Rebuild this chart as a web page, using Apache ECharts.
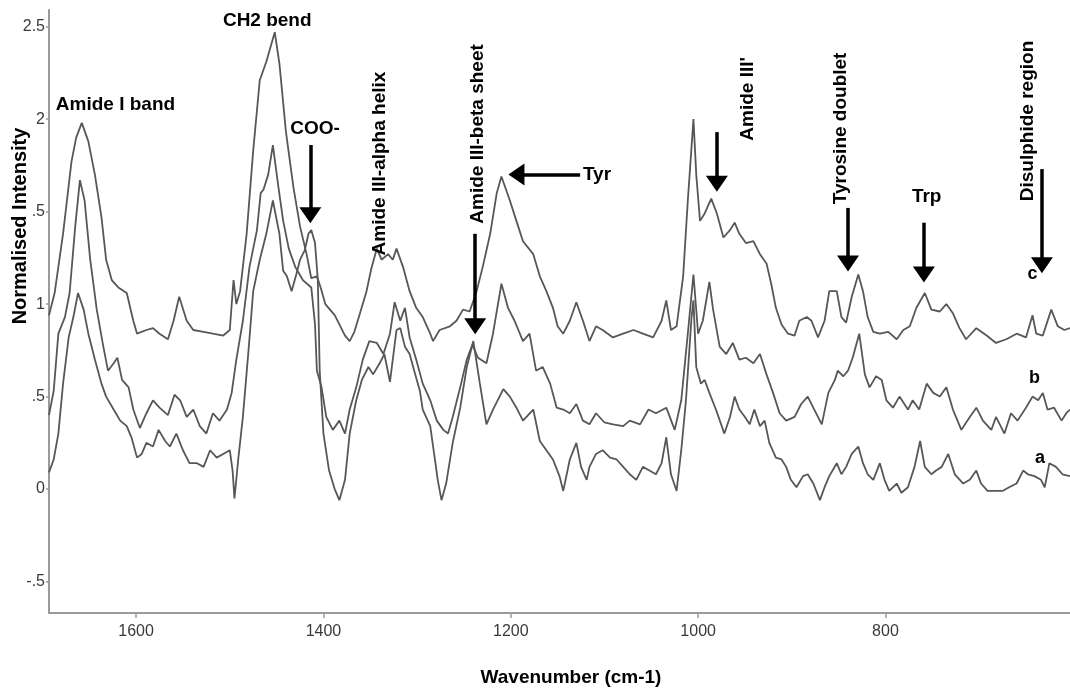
<!DOCTYPE html>
<html>
<head>
<meta charset="utf-8">
<script src="https://cdn.jsdelivr.net/npm/echarts@6/dist/echarts.min.js"></script>
<style>
html,body{margin:0;padding:0;background:#fff;}
#chart{width:1070px;height:689px;}
</style>
</head>
<body>
<div id="chart"></div>
<script>
// ---- Data ----
const xTicks = [1600, 1400, 1200, 1000, 800];
const yTicks = [-0.5, 0, 0.5, 1, 1.5, 2, 2.5];
const yTickLabels = ['-.5', '0', '.5', '1', '.5', '2', '2.5'];

// Spectrum c (top)
const waveC = [1693,1687,1678,1669,1664,1658,1651,1644,1637,1632,1626,1619,1610,1603,1599,1589,1582,1575,1566,1560,1554,1546,1539,1528,1518,1507,1500,1496,1493,1489,1482,1475,1468,1461,1452,1447,1440,1432,1425,1418,1413,1407,1403,1398,1393,1388,1383,1377,1372,1367,1361,1354,1349,1343,1338,1331,1326,1322,1315,1308,1301,1294,1286,1283,1276,1265,1258,1251,1244,1237,1230,1222,1215,1210,1201,1194,1187,1176,1169,1162,1155,1150,1144,1137,1130,1123,1116,1109,1102,1091,1080,1069,1059,1048,1039,1034,1029,1023,1016,1011,1005,1002,998,993,986,980,973,966,961,956,949,941,934,927,922,917,911,904,897,892,884,879,872,865,860,852,847,842,836,829,824,819,813,806,797,788,781,774,767,758,751,742,735,728,721,714,703,692,682,671,660,650,643,639,632,623,616,609,603];
const intC = [0.94,1.06,1.38,1.77,1.90,1.98,1.88,1.70,1.47,1.24,1.13,1.09,1.06,0.91,0.84,0.86,0.87,0.84,0.81,0.91,1.04,0.91,0.86,0.85,0.84,0.83,0.86,1.13,1.00,1.07,1.38,1.83,2.21,2.31,2.47,2.30,1.93,1.63,1.42,1.27,1.14,1.15,1.09,1.00,0.97,0.94,0.89,0.83,0.80,0.85,0.95,1.07,1.19,1.30,1.24,1.27,1.24,1.30,1.20,1.07,0.98,0.93,0.84,0.80,0.86,0.88,0.91,0.97,0.96,1.06,1.20,1.38,1.60,1.69,1.56,1.45,1.34,1.27,1.15,1.07,0.98,0.88,0.84,0.91,1.01,0.91,0.80,0.88,0.86,0.82,0.84,0.86,0.84,0.82,0.91,1.02,0.86,0.88,1.15,1.56,2.00,1.70,1.45,1.49,1.57,1.49,1.36,1.40,1.44,1.38,1.33,1.34,1.27,1.22,1.11,0.98,0.89,0.84,0.83,0.91,0.93,0.91,0.82,0.91,1.07,1.07,0.93,0.90,1.04,1.16,1.07,0.93,0.85,0.84,0.85,0.81,0.86,0.88,0.98,1.06,0.97,0.96,1.00,0.95,0.87,0.81,0.87,0.83,0.79,0.81,0.84,0.82,0.94,0.84,0.83,0.97,0.88,0.86,0.87];

// Spectrum b (middle)
const waveB = [1693,1688,1683,1676,1671,1665,1660,1655,1649,1642,1635,1630,1624,1620,1615,1608,1603,1596,1589,1582,1575,1566,1559,1553,1546,1539,1532,1525,1518,1511,1503,1498,1493,1486,1479,1471,1467,1464,1459,1454,1448,1443,1437,1430,1422,1413,1409,1407,1402,1397,1390,1383,1377,1372,1365,1358,1351,1343,1336,1329,1324,1318,1313,1308,1301,1294,1286,1279,1272,1267,1262,1254,1247,1241,1235,1226,1219,1210,1203,1196,1187,1180,1173,1166,1158,1151,1144,1137,1130,1123,1116,1109,1100,1091,1080,1073,1062,1053,1045,1034,1025,1018,1011,1005,1000,995,988,984,977,970,963,956,949,941,934,927,920,913,906,897,890,883,876,868,861,854,851,845,840,835,828,822,817,810,804,799,792,785,776,771,764,756,749,742,735,728,719,710,703,696,687,682,673,666,659,650,643,637,632,627,620,612,607,603];
const intB = [0.40,0.53,0.84,0.93,1.06,1.42,1.67,1.56,1.24,0.97,0.77,0.64,0.68,0.71,0.59,0.55,0.43,0.33,0.41,0.48,0.44,0.40,0.51,0.48,0.39,0.43,0.34,0.30,0.41,0.37,0.43,0.52,0.70,0.91,1.20,1.40,1.60,1.62,1.70,1.86,1.63,1.45,1.30,1.20,1.13,1.09,0.89,0.64,0.55,0.39,0.32,0.37,0.30,0.43,0.55,0.70,0.80,0.79,0.73,0.84,1.01,0.91,0.98,0.82,0.70,0.57,0.48,0.37,0.32,0.30,0.39,0.55,0.70,0.78,0.71,0.68,0.84,1.11,0.98,0.91,0.80,0.84,0.64,0.66,0.57,0.44,0.43,0.41,0.46,0.37,0.35,0.41,0.36,0.35,0.34,0.37,0.35,0.43,0.41,0.44,0.32,0.48,0.84,1.16,0.84,0.91,1.12,0.97,0.77,0.73,0.79,0.70,0.71,0.68,0.73,0.62,0.52,0.41,0.37,0.39,0.46,0.50,0.43,0.35,0.52,0.59,0.64,0.61,0.64,0.71,0.84,0.62,0.55,0.61,0.59,0.48,0.44,0.50,0.43,0.48,0.43,0.57,0.52,0.50,0.55,0.43,0.32,0.39,0.44,0.37,0.32,0.39,0.30,0.41,0.37,0.44,0.50,0.48,0.52,0.43,0.44,0.37,0.41,0.43];

// Spectrum a (bottom)
const waveA = [1693,1688,1683,1678,1672,1667,1662,1656,1651,1644,1637,1632,1624,1617,1610,1605,1599,1594,1589,1582,1576,1569,1564,1557,1550,1543,1535,1528,1521,1514,1507,1500,1497,1495,1491,1486,1480,1475,1468,1461,1454,1447,1443,1439,1434,1429,1425,1420,1416,1413,1409,1406,1404,1400,1394,1388,1383,1377,1372,1365,1359,1352,1347,1340,1335,1329,1322,1318,1313,1308,1302,1297,1294,1286,1281,1278,1274,1269,1262,1254,1247,1240,1233,1226,1219,1208,1201,1194,1187,1176,1169,1162,1155,1148,1144,1137,1130,1125,1119,1116,1109,1102,1094,1087,1080,1073,1066,1059,1052,1045,1039,1034,1029,1023,1018,1013,1007,1005,1002,997,993,988,981,972,966,961,956,950,945,940,934,929,924,917,911,906,901,895,888,883,877,870,865,860,852,847,842,836,829,824,819,813,806,801,796,788,783,776,769,763,758,751,746,740,733,726,717,710,703,698,691,682,675,668,660,653,648,641,634,630,625,618,611,603];
const intA = [0.09,0.16,0.30,0.57,0.82,0.93,1.06,0.97,0.84,0.70,0.57,0.50,0.43,0.37,0.34,0.28,0.17,0.19,0.25,0.23,0.32,0.26,0.23,0.30,0.21,0.14,0.14,0.12,0.21,0.17,0.19,0.21,0.10,-0.05,0.16,0.39,0.75,1.07,1.24,1.38,1.56,1.38,1.18,1.15,1.07,1.16,1.24,1.29,1.38,1.40,1.33,1.13,0.64,0.30,0.10,0.00,-0.06,0.05,0.30,0.48,0.59,0.66,0.62,0.68,0.73,0.58,0.86,0.87,0.77,0.73,0.62,0.53,0.43,0.34,0.16,0.05,-0.06,0.03,0.25,0.44,0.66,0.80,0.57,0.35,0.43,0.54,0.50,0.44,0.37,0.43,0.26,0.21,0.16,0.07,-0.01,0.16,0.25,0.12,0.05,0.12,0.19,0.21,0.17,0.16,0.12,0.08,0.05,0.12,0.10,0.08,0.14,0.28,0.08,-0.01,0.21,0.48,0.93,1.02,0.66,0.57,0.59,0.52,0.43,0.30,0.39,0.50,0.43,0.39,0.35,0.43,0.34,0.37,0.25,0.17,0.16,0.12,0.05,0.01,0.07,0.08,0.03,-0.06,0.01,0.07,0.14,0.08,0.12,0.19,0.23,0.14,0.08,0.05,0.14,0.05,-0.01,0.03,-0.02,0.01,0.12,0.26,0.12,0.08,0.10,0.12,0.19,0.08,0.03,0.05,0.10,0.03,-0.01,-0.01,-0.01,0.01,0.03,0.10,0.08,0.07,0.05,0.01,0.14,0.12,0.08,0.07];

// Annotations: text, wavenumber, intensity, rotation
const noteText = ['Amide I band','CH2 bend','COO-','Amide III-alpha helix','Amide III-beta sheet','Tyr',"Amide III'",'Tyrosine doublet','Trp','Disulphide region'];
const noteWave = [1622,1460,1409,1340,1235,1108,947,848,756,648];
const noteInt  = [2.08,2.53,1.95,1.76,1.92,1.70,2.11,1.95,1.58,1.99];
const noteRot  = [0,0,0,90,90,0,90,90,0,90];

// Curve tags
const tagText = ['c','b','a'];
const tagWave = [643,641,635];
const tagInt  = [1.16,0.60,0.17];

// Arrows: start (wave, int) -> end (wave, int)
const arrowFromWave = [1414,1238,1126,980,840,759,633];
const arrowFromInt  = [1.86,1.38,1.70,1.93,1.52,1.44,1.73];
const arrowToWave   = [1414,1238,1194,980,840,759,633];
const arrowToInt    = [1.48,0.88,1.70,1.65,1.22,1.16,1.21];

// ---- Build ----
const zip = (w, v) => w.map((x, i) => [x, v[i]]);
const FONT = "'Liberation Sans', Arial, Helvetica, sans-serif";
const lineColor = '#575757';
const textStyleBase = { color: '#000', fontWeight: 'bold', fontFamily: FONT, textBorderWidth: 0, opacity: 1 };

const noteData = noteText.map((t, i) => ({
  name: t, value: [noteWave[i], noteInt[i]],
  label: { rotate: noteRot[i] }
}));
const tagData = tagText.map((t, i) => ({ name: t, value: [tagWave[i], tagInt[i]] }));
const arrowData = arrowFromWave.map((w, i) => [
  { coord: [w, arrowFromInt[i]] },
  { coord: [arrowToWave[i], arrowToInt[i]] }
]);

const chart = echarts.init(document.getElementById('chart'), null, { renderer: 'canvas' });
chart.setOption({
  animation: false,
  backgroundColor: '#fff',
  grid: { left: 49, right: 0, top: 10, bottom: 76 },
  xAxis: {
    type: 'value', inverse: true, min: 603, max: 1693,
    axisLine: { show: true, onZero: false, lineStyle: { color: '#9a9a9a', width: 2 } },
    axisTick: { show: true, length: 5, customValues: xTicks, lineStyle: { color: '#9a9a9a', width: 1.5 } },
    axisLabel: { customValues: xTicks, margin: 11, color: '#3a3a3a', fontSize: 16, fontFamily: FONT,
      formatter: v => String(v) },
    splitLine: { show: false }
  },
  yAxis: {
    type: 'value', min: -0.67, max: 2.59,
    axisLine: { show: true, onZero: false, lineStyle: { color: '#9a9a9a', width: 2 } },
    axisTick: { show: true, length: 3, customValues: yTicks, lineStyle: { color: '#9a9a9a', width: 1.5 } },
    axisLabel: {
      customValues: yTicks, margin: 4, color: '#3a3a3a', fontSize: 16, fontFamily: FONT,
      formatter: v => { const i = yTicks.findIndex(t => Math.abs(t - v) < 1e-6); return i >= 0 ? yTickLabels[i] : ''; }
    },
    splitLine: { show: false }
  },
  graphic: [
    { type: 'text', x: 20, y: 226, rotation: Math.PI / 2,
      style: { text: 'Normalised Intensity', font: 'bold 20px ' + FONT, fill: '#000', align: 'center', verticalAlign: 'middle' } },
    { type: 'text', x: 571, y: 678,
      style: { text: 'Wavenumber (cm-1)', font: 'bold 19px ' + FONT, fill: '#000', align: 'center', verticalAlign: 'middle' } }
  ],
  series: [
    { name: 'c', type: 'line', data: zip(waveC, intC), showSymbol: false, symbol: 'none',
      lineStyle: { color: lineColor, width: 1.8 }, silent: true },
    { name: 'b', type: 'line', data: zip(waveB, intB), showSymbol: false, symbol: 'none',
      lineStyle: { color: lineColor, width: 1.8 }, silent: true },
    { name: 'a', type: 'line', data: zip(waveA, intA), showSymbol: false, symbol: 'none',
      lineStyle: { color: lineColor, width: 1.8 }, silent: true },
    { name: 'notes', type: 'scatter', data: noteData, symbolSize: 0, silent: true, z: 5,
      itemStyle: { opacity: 1 },
      label: Object.assign({ show: true, position: 'inside', formatter: '{b}', fontSize: 19 }, textStyleBase),
      markLine: {
        silent: true, symbol: ['none', 'triangle'], symbolSize: [22, 16],
        lineStyle: { color: '#000', width: 3.5, type: 'solid', opacity: 1 },
        itemStyle: { color: '#000' },
        label: { show: false },
        emphasis: { disabled: true },
        data: arrowData
      }
    },
    { name: 'tags', type: 'scatter', data: tagData, symbolSize: 0, silent: true, z: 5,
      itemStyle: { opacity: 1 },
      label: Object.assign({ show: true, position: 'inside', formatter: '{b}', fontSize: 18 }, textStyleBase) }
  ]
});
</script>
</body>
</html>
